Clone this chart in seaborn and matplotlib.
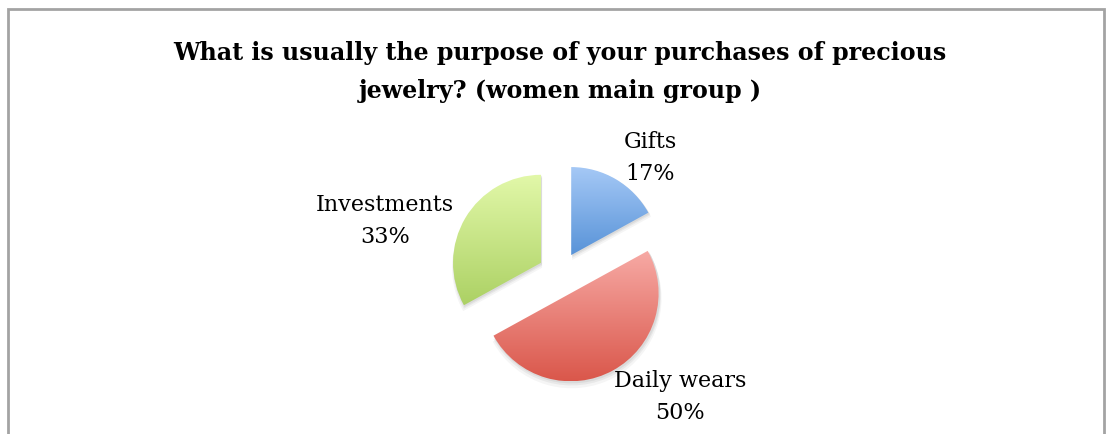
import numpy as np
import matplotlib
matplotlib.use("Agg")
import matplotlib.pyplot as plt
import matplotlib.patches as mpatches
from matplotlib.colors import LinearSegmentedColormap
import seaborn as sns

# Survey answers (women main group)
categories = ["Gifts", "Daily wears", "Investments"]
shares = [17, 50, 33]
title = "What is usually the purpose of your purchases of precious\njewelry? (women main group )"

# light (top) -> dark (bottom) gradient for each slice
gradients = [("#a6c9f6", "#5893d8"),
             ("#f7aaa5", "#da574b"),
             ("#e2f8a9", "#acd164")]

sns.set_theme(style="white")
plt.rcParams["font.family"] = ["DejaVu Serif"]

W, H = 1112, 434
fig = plt.figure(figsize=(W / 100, H / 100), dpi=100)
ax = fig.add_axes([0, 0, 1, 1])

center = (560, 160)
radius = 88
explode_frac = 0.25
wedges, _ = ax.pie(shares, explode=[explode_frac * radius] * len(shares),
                   startangle=90, counterclock=False, center=center,
                   radius=radius, frame=True, wedgeprops=dict(linewidth=0))
ax.set_xlim(0, W)
ax.set_ylim(0, H)
ax.set_aspect("equal")
ax.axis("off")

# chart frame (bottom edge runs off the canvas)
frame = mpatches.Rectangle((8, -20), 1096, H - 9 + 20, fill=False,
                           edgecolor="#a3a3a3", linewidth=2, clip_on=False)
ax.add_patch(frame)

# soft drop shadow under the slices
for w in wedges:
    for k, a in [(5, 0.04), (3, 0.05), (1.5, 0.06)]:
        sh = mpatches.Wedge((w.center[0] + 1, w.center[1] - k), w.r + k * 0.4,
                            w.theta1, w.theta2, facecolor="black", alpha=a,
                            linewidth=0, zorder=0.5)
        ax.add_patch(sh)

# vertical gradient fill, clipped to each slice
for w, (top, bot) in zip(wedges, gradients):
    w.set_facecolor("none")
    w.set_zorder(2)
    cmap = LinearSegmentedColormap.from_list("g", [bot, top])
    th = np.radians(np.linspace(w.theta1, w.theta2, 200))
    xs = np.concatenate([[w.center[0]], w.center[0] + w.r * np.cos(th)])
    ys = np.concatenate([[w.center[1]], w.center[1] + w.r * np.sin(th)])
    grad = np.linspace(0, 1, 256).reshape(-1, 1)
    im = ax.imshow(grad, cmap=cmap, origin="lower", aspect="auto",
                   extent=(xs.min(), xs.max(), ys.min(), ys.max()),
                   zorder=1.5, interpolation="bilinear")
    im.set_clip_path(w)
ax.set_xlim(0, W)
ax.set_ylim(0, H)
ax.set_aspect("equal")

# slice labels
label_pos = {"Gifts": (650, 276), "Daily wears": (680, 37), "Investments": (385, 213)}
for name, val in zip(categories, shares):
    x, y = label_pos[name]
    ax.text(x, y, f"{name}\n{val}%", ha="center", va="center",
            multialignment="center", fontsize=16, color="black",
            linespacing=1.58)

ax.text(560, 362, title, ha="center", va="center", multialignment="center",
        fontsize=17.1, fontweight="bold", color="black", linespacing=1.7)

fig.savefig("out.png", dpi=100)
